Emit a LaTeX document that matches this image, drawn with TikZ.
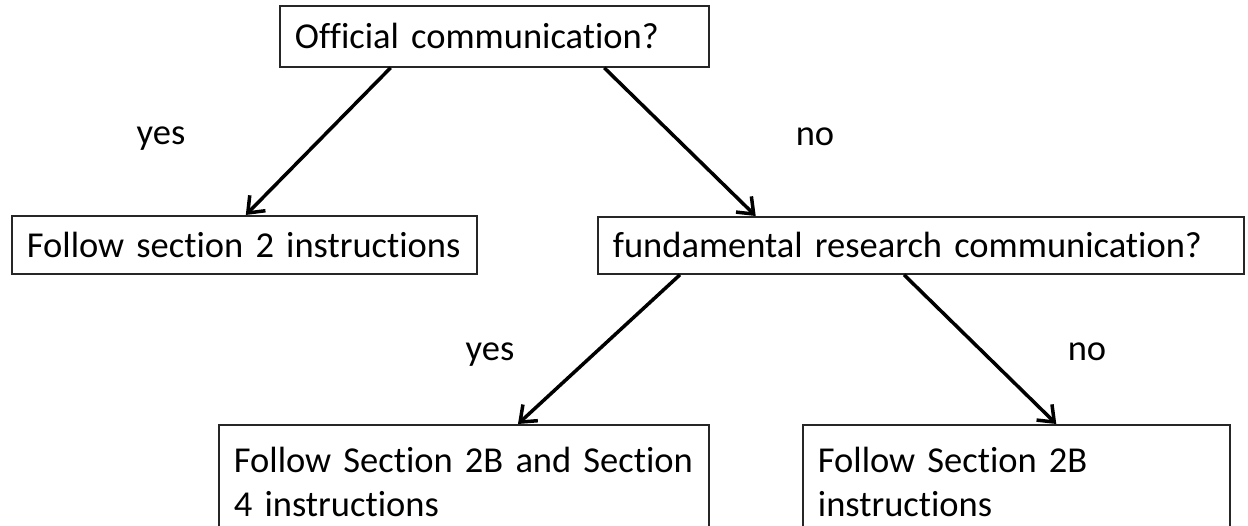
\documentclass[tikz,border=0pt]{standalone}
\usepackage{fontspec}
\setmainfont{Carlito}[Ligatures={NoCommon}]
\usetikzlibrary{arrows.meta,calc}
\newcommand{\diagfont}{\fontsize{36.5bp}{44.5bp}\selectfont\fontdimen2\font=5.5bp\relax}
\begin{document}
\begin{tikzpicture}[x=1bp,y=-1bp,
  every node/.style={font=\diagfont},
  box/.style={draw=black!85,line width=1.8bp,anchor=north west,inner xsep=15bp,align=left},
  onebox/.style={box,inner ysep=0bp},
  twobox/.style={box,inner ysep=22bp},
  arr/.style={line width=3.5bp,-{Straight Barb[length=14bp,width=22bp,line width=3.5bp]}},
  lbl/.style={anchor=base,inner sep=0pt}]
\useasboundingbox (0,0) rectangle (1248,526);
\clip (0,0) rectangle (1248,526);
\node[onebox,text width=399bp,minimum height=61bp] (q1) at (279,5) {Official communication?};
\node[onebox,text width=435bp,minimum height=58bp] (s2) at (11,215) {Follow section 2 instructions};
\node[onebox,text width=616bp,minimum height=57bp] (q2) at (597,216) {fundamental research communication?};
\node[twobox,text width=460bp] (s24) at (218,424) {Follow Section 2B and Section\\4 instructions};
\node[twobox,text width=397bp] (s2b) at (802,424) {Follow Section 2B\\instructions};
\draw[arr] ($(q1.south west)!0.259!(q1.south east)$) -- ($(s2.north west)!0.503!(s2.north east)$);
\draw[arr] ($(q1.south west)!0.755!(q1.south east)$) -- ($(q2.north west)!0.245!(q2.north east)$);
\draw[arr] ($(q2.south west)!0.128!(q2.south east)$) -- ($(s24.north west)!0.61!(s24.north east)$);
\draw[arr] ($(q2.south west)!0.474!(q2.south east)$) -- ($(s2b.north west)!0.593!(s2b.north east)$);
\node[lbl] (y1) at (161,145) {yes};
\node[lbl] (n1) at (815,146) {no};
\node[lbl] (y2) at (490,361) {yes};
\node[lbl] (n2) at (1087,361) {no};
\end{tikzpicture}
\end{document}
